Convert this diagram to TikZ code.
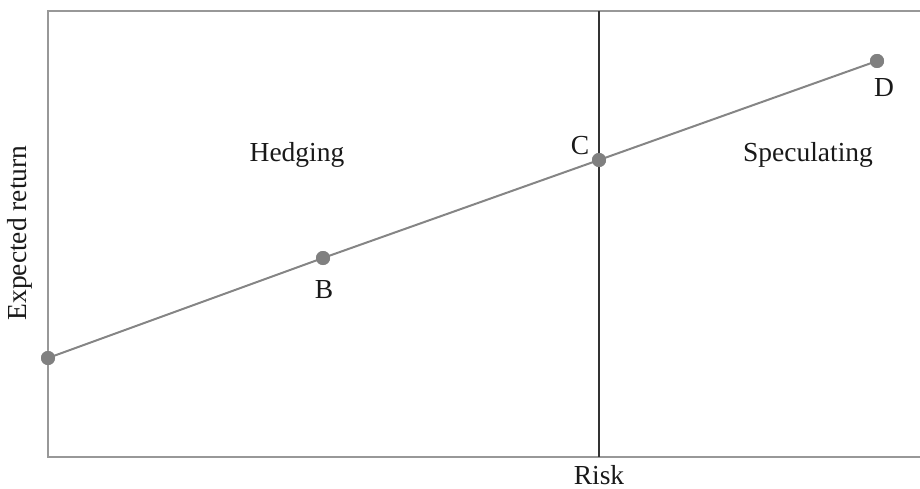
\documentclass[tikz,border=0pt]{standalone}
\usepackage{fontspec}
\setmainfont{Liberation Serif}
\begin{document}
\begin{tikzpicture}[x=1pt,y=-1pt,
  frame/.style={draw=gray!85!black!70, line width=2pt},
  curve/.style={draw=gray!80!black!80, line width=2pt},
  divider/.style={draw=black!80, line width=2pt},
  dot/.style={circle, fill=gray!75!black!80, inner sep=0pt, minimum size=14pt},
  lab/.style={font=\fontsize{27.5}{31}\selectfont, text=black!90}]
\useasboundingbox (0,0) rectangle (920,489);
\coordinate (tl) at (48,11);
\coordinate (tr) at (920,11);
\coordinate (bl) at (48,457);
\coordinate (br) at (920,457);
\draw[frame] (tr) -- (tl) -- (bl) -- (br);
\coordinate (vt) at (599,11);
\coordinate (vb) at (599,457);
\draw[divider] (vt) -- (vb);
\node[dot] (A) at (48,358) {};
\node[dot] (B) at (323,258) {};
\node[dot] (C) at (599,160) {};
\node[dot] (D) at (877,61) {};
\draw[curve] (A.center) -- (B.center) -- (C.center) -- (D.center);
\node[dot] at (A) {};
\node[dot] at (B) {};
\node[dot] at (C) {};
\node[dot] at (D) {};
\node[lab] (lB) at (324,290) {B};
\node[lab] (lC) at (580,146) {C};
\node[lab] (lD) at (884,88) {D};
\node[lab] (hedge) at (297,155) {Hedging};
\node[lab] (spec) at (808,155) {Speculating};
\node[lab, anchor=base, inner sep=0pt] (risk) at (599,484) {Risk};
\node[lab, rotate=90] (er) at (20,233) {Expected return};
\end{tikzpicture}
\end{document}
